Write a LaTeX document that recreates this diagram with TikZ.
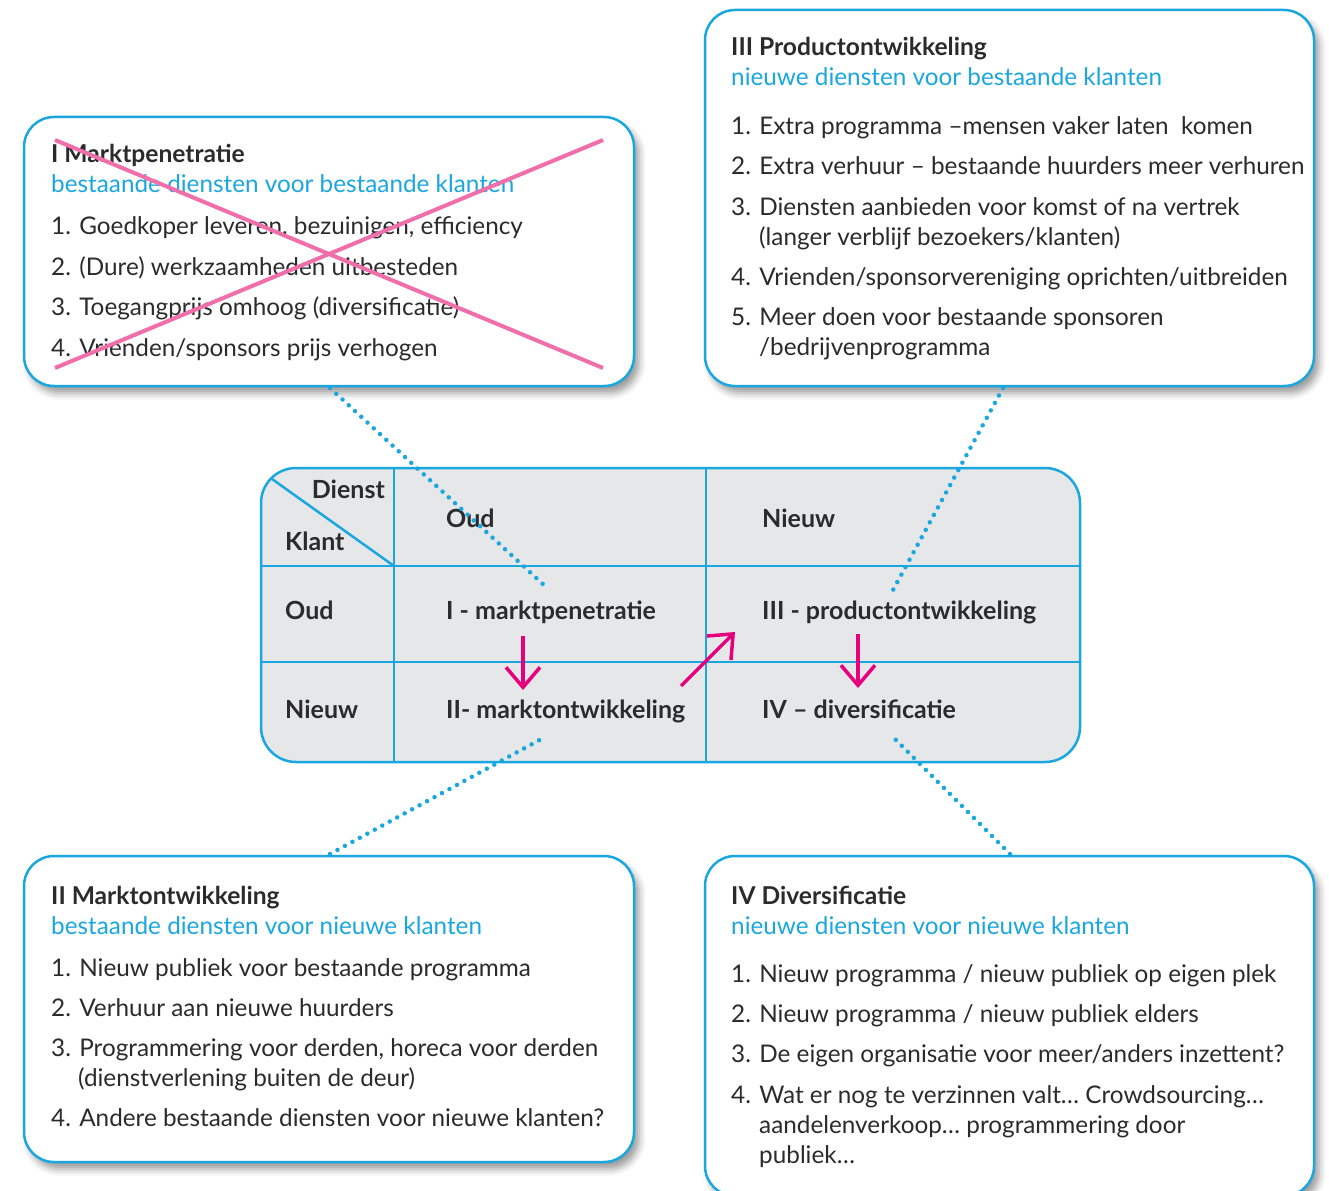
\documentclass[tikz,border=0pt]{standalone}
\usepackage{fontspec}
\setmainfont{Lato}
\usetikzlibrary{shadows.blur,arrows.meta}
\definecolor{cyanb}{HTML}{1AA7E0}
\definecolor{txtc}{HTML}{2B2B2B}
\definecolor{pinkx}{HTML}{F06EAA}
\definecolor{magc}{HTML}{E6007E}
\definecolor{cellg}{HTML}{E6E7E8}
\tikzset{
  panel/.style={draw=cyanb, line width=2.5pt, fill=white, rounded corners=30pt,
    blur shadow={shadow xshift=5pt, shadow yshift=-7pt, shadow blur radius=7pt, shadow opacity=40}},
  tx/.style={anchor=base west, inner sep=0pt, text=txtc, font=\fontsize{24.3}{28}\selectfont},
  ttl/.style={tx, font=\fontsize{24.6}{28}\selectfont\bfseries},
  sub/.style={tx, text=cyanb},
  cell/.style={tx, font=\fontsize{25}{28}\selectfont\bfseries},
  grid/.style={draw=cyanb, line width=2.5pt},
  dots/.style={draw=cyanb, line width=4.5pt, line cap=round, dash pattern=on 0pt off 8.5pt},
  marr/.style={draw=magc, line width=3.5pt, -{Straight Barb[length=20pt, width=34pt, line width=3.5pt]}},
  xline/.style={draw=pinkx, line width=4pt}
}
\begin{document}
\begin{tikzpicture}[x=1pt,y=-1pt]
\useasboundingbox (0,0) rectangle (1329,1190);
\clip (0,0) rectangle (1329,1190);

% ---------- central table ----------
\node[draw=cyanb, line width=2.5pt, fill=cellg, rounded corners=35pt,
      minimum width=819pt, minimum height=294pt, inner sep=0pt] (tab) at (670.5,615) {};
\coordinate (c1t) at (394,468); \coordinate (c1b) at (394,762);
\coordinate (c2t) at (706,468); \coordinate (c2b) at (706,762);
\coordinate (r1l) at (261,566); \coordinate (r1r) at (1080,566);
\coordinate (r2l) at (261,662); \coordinate (r2r) at (1080,662);
\path[grid] (c1t) -- (c1b);
\path[grid] (c2t) -- (c2b);
\path[grid] (r1l) -- (r1r);
\path[grid] (r2l) -- (r2r);
\coordinate (diagA) at (272,479);
\path[grid] (diagA) -- (394,566);

\node[cell, anchor=base east] (dienst) at (385,498) {Dienst};
\node[cell] (klant) at (285,550) {Klant};
\node[cell] (houd) at (446,527) {Oud};
\node[cell] (hnieuw) at (762,527) {Nieuw};
\node[cell] (roud) at (285,619) {Oud};
\node[cell] (rnieuw) at (285,718) {Nieuw};
\node[cell] (q1) at (446,619) {I - marktpenetratie};
\node[cell] (q3) at (762,619) {III - productontwikkeling};
\node[cell] (q2) at (446,718) {II- marktontwikkeling};
\node[cell] (q4) at (762,718) {IV – diversificatie};

% ---------- magenta arrows ----------
\coordinate (a1s) at (523,636); \coordinate (a1e) at (523,690);
\coordinate (a2s) at (681,686); \coordinate (a2e) at (735,632);
\coordinate (a3s) at (858,634); \coordinate (a3e) at (858,688);
\path[marr] (a1s) -- (a1e);
\path[marr] (a2s) -- (a2e);
\path[marr] (a3s) -- (a3e);

% ---------- boxes ----------
\node[panel, minimum width=610pt, minimum height=269pt, inner sep=0pt] (boxI) at (329,251.5) {};
\node[panel, minimum width=609pt, minimum height=376pt, inner sep=0pt] (boxIII) at (1009.5,198) {};
\node[panel, minimum width=610pt, minimum height=306pt, inner sep=0pt] (boxII) at (329,1009) {};
\node[panel, minimum width=609pt, minimum height=340pt, inner sep=0pt] (boxIV) at (1009.5,1026) {};

% ---------- dotted connectors ----------
\coordinate (dIa) at (330,388); \coordinate (dIb) at (545,586);
\coordinate (dIIIa) at (1003,388); \coordinate (dIIIb) at (893,590);
\coordinate (dIIa) at (330,854); \coordinate (dIIb) at (545,737);
\coordinate (dIVa) at (1010,854); \coordinate (dIVb) at (893,737);
\path[dots] (dIa) -- (dIb);
\path[dots] (dIIIa) -- (dIIIb);
\path[dots] (dIIa) -- (dIIb);
\path[dots] (dIVa) -- (dIVb);

% ---------- box I ----------
\node[ttl] (t1) at (51,163) {I Marktpenetratie};
\node[sub] (s1) at (51,193) {bestaande diensten voor bestaande klanten};
\node[tx] (i11) at (51,235) {1. Goedkoper leveren, bezuinigen, efficiency};
\node[tx] (i12) at (51,275) {2. (Dure) werkzaamheden uitbesteden};
\node[tx] (i13) at (51,315) {3. Toegangprijs omhoog (diversificatie)};
\node[tx] (i14) at (51,356) {4. Vrienden/sponsors prijs verhogen};
\coordinate (x1a) at (55,140); \coordinate (x1b) at (603,368);
\coordinate (x2a) at (55,368); \coordinate (x2b) at (603,140);
\path[xline] (x1a) -- (x1b);
\path[xline] (x2a) -- (x2b);

% ---------- box III ----------
\node[ttl] (t3) at (731,56) {III Productontwikkeling};
\node[sub] (s3) at (731,86) {nieuwe diensten voor bestaande klanten};
\node[tx] (i31) at (731,135) {1. Extra programma –mensen vaker laten \ komen};
\node[tx] (i32) at (731,175) {2. Extra verhuur – bestaande huurders meer verhuren};
\node[tx] (i33) at (731,215) {3. Diensten aanbieden voor komst of na vertrek};
\node[tx] (i33b) at (759,245) {(langer verblijf bezoekers/klanten)};
\node[tx] (i34) at (731,285) {4. Vrienden/sponsorvereniging oprichten/uitbreiden};
\node[tx] (i35) at (731,325) {5. Meer doen voor bestaande sponsoren};
\node[tx] (i35b) at (759,355) {/bedrijvenprogramma};

% ---------- box II ----------
\node[ttl] (t2) at (51,904) {II Marktontwikkeling};
\node[sub] (s2) at (51,934) {bestaande diensten voor nieuwe klanten};
\node[tx] (i21) at (51,976) {1. Nieuw publiek voor bestaande programma};
\node[tx] (i22) at (51,1016) {2. Verhuur aan nieuwe huurders};
\node[tx] (i23) at (51,1056) {3. Programmering voor derden, horeca voor derden};
\node[tx] (i23b) at (78,1086) {(dienstverlening buiten de deur)};
\node[tx] (i24) at (51,1126) {4. Andere bestaande diensten voor nieuwe klanten?};

% ---------- box IV ----------
\node[ttl] (t4) at (731,904) {IV Diversificatie};
\node[sub] (s4) at (731,934) {nieuwe diensten voor nieuwe klanten};
\node[tx] (i41) at (731,982) {1. Nieuw programma / nieuw publiek op eigen plek};
\node[tx] (i42) at (731,1022) {2. Nieuw programma / nieuw publiek elders};
\node[tx] (i43) at (731,1062) {3. De eigen organisatie voor meer/anders inzettent?};
\node[tx] (i44) at (731,1103) {4. Wat er nog te verzinnen valt… Crowdsourcing…};
\node[tx] (i44b) at (759,1133) {aandelenverkoop… programmering door};
\node[tx] (i44c) at (759,1163) {publiek…};
\end{tikzpicture}
\end{document}
